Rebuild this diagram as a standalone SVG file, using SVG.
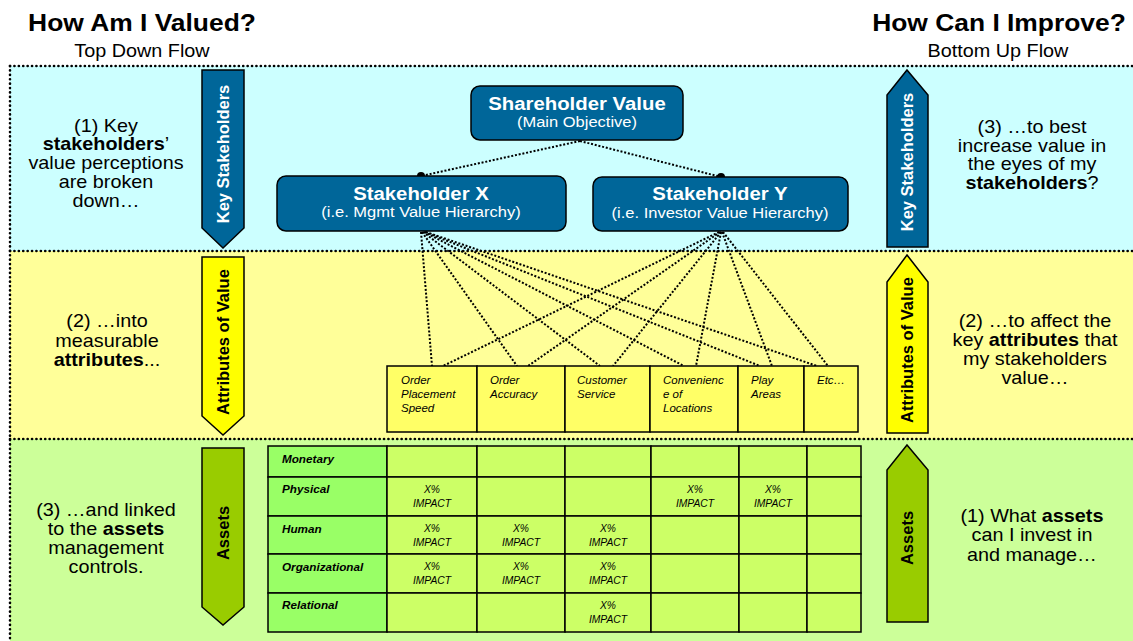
<svg xmlns="http://www.w3.org/2000/svg" width="1133" height="641" viewBox="0 0 1133 641">
<style>
text{font-family:"Liberation Sans",Arial,sans-serif;}
.title{font-size:24px;font-weight:bold;fill:#000;text-anchor:middle;}
.sub{font-size:18px;fill:#000;text-anchor:middle;}
.body{font-size:18px;fill:#000;text-anchor:middle;}
.b{font-weight:bold;}
.border{fill:none;stroke:#000;stroke-width:2.6;stroke-linecap:round;stroke-dasharray:0.1 4.3;}
.node rect{fill:#006699;stroke:#000;stroke-width:1.5;}
.nt{font-size:18.5px;font-weight:bold;fill:#fff;text-anchor:middle;}
.ns{font-size:15px;fill:#fff;text-anchor:middle;}
.conn line{stroke:#000;stroke-width:2;stroke-dasharray:2 1.8;}
.arr{stroke:#000;stroke-width:1.5;}
.al{font-size:16.5px;font-weight:bold;text-anchor:middle;}
.attr rect{fill:#FFFF66;stroke:#000;stroke-width:1.5;}
.at{font-size:11.5px;font-style:italic;fill:#000;}
.lab{fill:#99FF66;stroke:#000;stroke-width:1.5;}
.cell{fill:#CCFF66;stroke:#000;stroke-width:1.5;}
.rl{font-size:11.7px;font-style:italic;font-weight:bold;fill:#000;}
.ci{font-size:10.3px;font-style:italic;fill:#000;text-anchor:middle;}
</style>
<rect width="1133" height="641" fill="#fff"/>
<g id="bands">
<rect x="10" y="66" width="1123" height="185" fill="#CCFFFF"/>
<rect x="10" y="251" width="1123" height="188" fill="#FFFF99"/>
<rect x="10" y="439" width="1123" height="202" fill="#CCFF99"/>
<line class="border" x1="10" y1="66" x2="1133" y2="66"/>
<line class="border" x1="10" y1="251" x2="1133" y2="251"/>
<line class="border" x1="10" y1="439" x2="1133" y2="439"/>
<line class="border" x1="10" y1="66" x2="10" y2="641"/>
</g>
<g id="titles">
<text class="title" x="142" y="31" transform="matrix(1.1 0 0 1 -14.2 0)">How Am I Valued?</text>
<text class="sub" x="142" y="57" transform="matrix(1.1 0 0 1 -14.2 0)">Top Down Flow</text>
<text class="title" x="999" y="31" transform="matrix(1.1 0 0 1 -99.9 0)">How Can I Improve?</text>
<text class="sub" x="998" y="57" transform="matrix(1.1 0 0 1 -99.8 0)">Bottom Up Flow</text>
</g>
<g id="left-texts">
<g transform="matrix(1.1 0 0 1 -10.6 0)">
<text class="body" x="106" y="132">(1) Key</text>
<text class="body" x="106" y="150"><tspan class="b">stakeholders</tspan>’</text>
<text class="body" x="106" y="169">value perceptions</text>
<text class="body" x="106" y="188">are broken</text>
<text class="body" x="106" y="207">down…</text>
</g>
<g transform="matrix(1.1 0 0 1 -10.7 0)">
<text class="body" x="107" y="327">(2) …into</text>
<text class="body" x="107" y="347">measurable</text>
<text class="body" x="107" y="366"><tspan class="b">attributes</tspan>...</text>
</g>
<g transform="matrix(1.1 0 0 1 -10.6 0)">
<text class="body" x="106" y="516">(3) …and linked</text>
<text class="body" x="106" y="535">to the <tspan class="b">assets</tspan></text>
<text class="body" x="106" y="554">management</text>
<text class="body" x="106" y="573">controls.</text>
</g>
</g>
<g id="right-texts">
<g transform="matrix(1.1 0 0 1 -103.2 0)">
<text class="body" x="1032" y="133">(3) …to best</text>
<text class="body" x="1032" y="152">increase value in</text>
<text class="body" x="1032" y="170">the eyes of my</text>
<text class="body" x="1032" y="189"><tspan class="b">stakeholders</tspan>?</text>
</g>
<g transform="matrix(1.1 0 0 1 -103.5 0)">
<text class="body" x="1035" y="327">(2) …to affect the</text>
<text class="body" x="1035" y="346">key <tspan class="b">attributes</tspan> that</text>
<text class="body" x="1035" y="365">my stakeholders</text>
<text class="body" x="1035" y="384">value…</text>
</g>
<g transform="matrix(1.1 0 0 1 -103.2 0)">
<text class="body" x="1032" y="522">(1) What <tspan class="b">assets</tspan></text>
<text class="body" x="1032" y="541">can I invest in</text>
<text class="body" x="1032" y="561">and manage…</text>
</g>
</g>
<g id="arrow-key-down">
<polygon class="arr" fill="#006699" points="202,70 244,70 244,228 223,248 202,228"/>
<text class="al" fill="#fff" transform="translate(229,154) rotate(-90)">Key Stakeholders</text>
</g>
<g id="arrow-attr-down">
<polygon class="arr" fill="#FFFF00" points="202,257 244,257 244,416 223,435 202,416"/>
<text class="al" fill="#000" transform="translate(229,342) rotate(-90)">Attributes of Value</text>
</g>
<g id="arrow-assets-down">
<polygon class="arr" fill="#99CC00" points="202,448 244,448 244,607 223,625 202,607"/>
<text class="al" fill="#000" transform="translate(229,533) rotate(-90)">Assets</text>
</g>
<g id="arrow-key-up">
<polygon class="arr" fill="#006699" points="907,70 928,95 928,247 887,247 887,95"/>
<text class="al" fill="#fff" transform="translate(913,162) rotate(-90)">Key Stakeholders</text>
</g>
<g id="arrow-attr-up">
<polygon class="arr" fill="#FFFF00" points="907,255 928,282 928,433 887,433 887,282"/>
<text class="al" fill="#000" transform="translate(913,350) rotate(-90)">Attributes of Value</text>
</g>
<g id="arrow-assets-up">
<polygon class="arr" fill="#99CC00" points="907,445 928,470 928,622 887,622 887,470"/>
<text class="al" fill="#000" transform="translate(913,538) rotate(-90)">Assets</text>
</g>
<g id="connectors" class="conn">
<line x1="580" y1="141" x2="421" y2="176"/>
<line x1="580" y1="141" x2="721" y2="177"/>
<line x1="421" y1="232" x2="432" y2="366"/>
<line x1="422" y1="232" x2="517" y2="366"/>
<line x1="423" y1="232" x2="600" y2="366"/>
<line x1="424" y1="232" x2="684" y2="366"/>
<line x1="425" y1="232" x2="760" y2="366"/>
<line x1="426" y1="232" x2="817" y2="366"/>
<line x1="719" y1="232" x2="443" y2="366"/>
<line x1="720" y1="232" x2="528" y2="366"/>
<line x1="721" y1="232" x2="613" y2="366"/>
<line x1="721" y1="232" x2="696" y2="366"/>
<line x1="722" y1="232" x2="772" y2="366"/>
<line x1="723" y1="232" x2="828" y2="366"/>
<circle cx="421" cy="176" r="4" fill="#000"/>
<circle cx="721" cy="177" r="4" fill="#000"/>
</g>
<g id="node-shareholder" class="node">
<rect x="471" y="86" width="212" height="54" rx="9"/>
<g transform="matrix(1.1 0 0 1 -57.7 0)">
<text class="nt" x="577" y="110">Shareholder Value</text>
<text class="ns" x="577" y="127">(Main Objective)</text>
</g>
</g>
<g id="node-stakeholder-x" class="node">
<rect x="277" y="176" width="289" height="55" rx="9"/>
<g transform="matrix(1.1 0 0 1 -42.1 0)">
<text class="nt" x="421" y="200">Stakeholder X</text>
<text class="ns" x="421" y="217">(i.e. Mgmt Value Hierarchy)</text>
</g>
</g>
<g id="node-stakeholder-y" class="node">
<rect x="593" y="177" width="255" height="54" rx="9"/>
<g transform="matrix(1.1 0 0 1 -72 0)">
<text class="nt" x="720" y="200">Stakeholder Y</text>
<text class="ns" x="720" y="218">(i.e. Investor Value Hierarchy)</text>
</g>
</g>
<g id="attributes" class="attr">
<rect x="387" y="366" width="90" height="66"/>
<rect x="477" y="366" width="88" height="66"/>
<rect x="565" y="366" width="85" height="66"/>
<rect x="650" y="366" width="88" height="66"/>
<rect x="738" y="366" width="66" height="66"/>
<rect x="804" y="366" width="54" height="66"/>
<text class="at" x="401" y="384">Order</text>
<text class="at" x="401" y="398">Placement</text>
<text class="at" x="401" y="412">Speed</text>
<text class="at" x="490" y="384">Order</text>
<text class="at" x="490" y="398">Accuracy</text>
<text class="at" x="577" y="384">Customer</text>
<text class="at" x="577" y="398">Service</text>
<text class="at" x="663" y="384">Convenienc</text>
<text class="at" x="663" y="398">e of</text>
<text class="at" x="663" y="412">Locations</text>
<text class="at" x="751" y="384">Play</text>
<text class="at" x="751" y="398">Areas</text>
<text class="at" x="817" y="384">Etc…</text>
</g>
<g id="assets-table">
<rect class="lab" x="268" y="446" width="119" height="31"/>
<rect class="lab" x="268" y="477" width="119" height="39"/>
<rect class="lab" x="268" y="516" width="119" height="38"/>
<rect class="lab" x="268" y="554" width="119" height="39"/>
<rect class="lab" x="268" y="593" width="119" height="39"/>
<g>
<rect class="cell" x="387" y="446" width="90" height="31"/><rect class="cell" x="477" y="446" width="88" height="31"/><rect class="cell" x="565" y="446" width="86" height="31"/><rect class="cell" x="651" y="446" width="88" height="31"/><rect class="cell" x="739" y="446" width="68" height="31"/><rect class="cell" x="807" y="446" width="54" height="31"/>
<rect class="cell" x="387" y="477" width="90" height="39"/><rect class="cell" x="477" y="477" width="88" height="39"/><rect class="cell" x="565" y="477" width="86" height="39"/><rect class="cell" x="651" y="477" width="88" height="39"/><rect class="cell" x="739" y="477" width="68" height="39"/><rect class="cell" x="807" y="477" width="54" height="39"/>
<rect class="cell" x="387" y="516" width="90" height="38"/><rect class="cell" x="477" y="516" width="88" height="38"/><rect class="cell" x="565" y="516" width="86" height="38"/><rect class="cell" x="651" y="516" width="88" height="38"/><rect class="cell" x="739" y="516" width="68" height="38"/><rect class="cell" x="807" y="516" width="54" height="38"/>
<rect class="cell" x="387" y="554" width="90" height="39"/><rect class="cell" x="477" y="554" width="88" height="39"/><rect class="cell" x="565" y="554" width="86" height="39"/><rect class="cell" x="651" y="554" width="88" height="39"/><rect class="cell" x="739" y="554" width="68" height="39"/><rect class="cell" x="807" y="554" width="54" height="39"/>
<rect class="cell" x="387" y="593" width="90" height="39"/><rect class="cell" x="477" y="593" width="88" height="39"/><rect class="cell" x="565" y="593" width="86" height="39"/><rect class="cell" x="651" y="593" width="88" height="39"/><rect class="cell" x="739" y="593" width="68" height="39"/><rect class="cell" x="807" y="593" width="54" height="39"/>
</g>
<text class="rl" x="282" y="463">Monetary</text>
<text class="rl" x="282" y="493">Physical</text>
<text class="rl" x="282" y="533">Human</text>
<text class="rl" x="282" y="571">Organizational</text>
<text class="rl" x="282" y="609">Relational</text>
<text class="ci" x="432" y="493">X%</text><text class="ci" x="432" y="507">IMPACT</text>
<text class="ci" x="695" y="493">X%</text><text class="ci" x="695" y="507">IMPACT</text>
<text class="ci" x="773" y="493">X%</text><text class="ci" x="773" y="507">IMPACT</text>
<text class="ci" x="432" y="532">X%</text><text class="ci" x="432" y="546">IMPACT</text>
<text class="ci" x="521" y="532">X%</text><text class="ci" x="521" y="546">IMPACT</text>
<text class="ci" x="608" y="532">X%</text><text class="ci" x="608" y="546">IMPACT</text>
<text class="ci" x="432" y="570">X%</text><text class="ci" x="432" y="584">IMPACT</text>
<text class="ci" x="521" y="570">X%</text><text class="ci" x="521" y="584">IMPACT</text>
<text class="ci" x="608" y="570">X%</text><text class="ci" x="608" y="584">IMPACT</text>
<text class="ci" x="608" y="609">X%</text><text class="ci" x="608" y="623">IMPACT</text>
</g>
</svg>
